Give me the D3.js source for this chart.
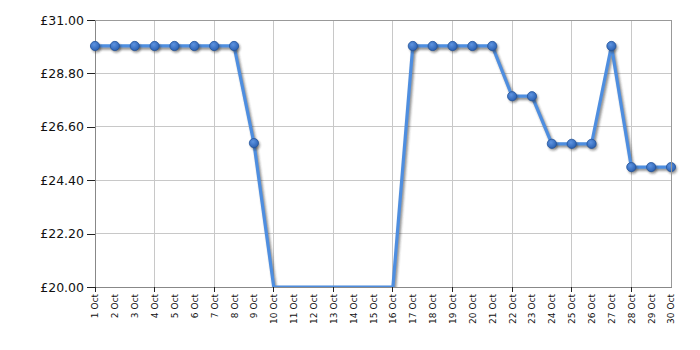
<!DOCTYPE html>
<html><head><meta charset="utf-8">
<script src="https://cdn.jsdelivr.net/npm/d3@7/dist/d3.min.js"></script>
<style>body{margin:0;background:#fff}svg{display:block}</style>
</head><body><svg id="c" width="700" height="350"></svg>
<script>
const dates = ["1 Oct","2 Oct","3 Oct","4 Oct","5 Oct","6 Oct","7 Oct","8 Oct","9 Oct","10 Oct","11 Oct","12 Oct","13 Oct","14 Oct","15 Oct","16 Oct","17 Oct","18 Oct","19 Oct","20 Oct","21 Oct","22 Oct","23 Oct","24 Oct","25 Oct","26 Oct","27 Oct","28 Oct","29 Oct","30 Oct"];
const prices = [29.93,29.93,29.93,29.93,29.93,29.93,29.93,29.93,25.93,null,null,null,null,null,null,null,29.93,29.93,29.93,29.93,29.93,27.86,27.86,25.9,25.9,25.9,29.93,24.94,24.94,24.94];
const yTicks = [20,22.2,24.4,26.6,28.8,31];
const xTickDates = ["1 Oct","4 Oct","7 Oct","10 Oct","13 Oct","16 Oct","19 Oct","22 Oct","25 Oct","28 Oct"];

const L=95,R=671,T=20,B=287;
const svg=d3.select("#c");
const x=d3.scalePoint().domain(dates).range([L,R]);
const y=d3.scaleLinear().domain([20,31]).range([B,T]);

const defs=svg.append("defs");
defs.append("clipPath").attr("id","clip").append("rect").attr("x",L).attr("y",T-10).attr("width",R-L+10).attr("height",B-T+10);
const g=defs.append("radialGradient").attr("id","mk").attr("cx","40%").attr("cy","35%").attr("r","65%");
g.append("stop").attr("offset","0%").attr("stop-color","#5d93e0");
g.append("stop").attr("offset","100%").attr("stop-color","#2c62b4");
const f=defs.append("filter").attr("id","blur").attr("x","-20%").attr("y","-20%").attr("width","140%").attr("height","140%");
f.append("feGaussianBlur").attr("stdDeviation",1);

// grid
svg.append("g").selectAll("line").data(yTicks).join("line")
  .attr("x1",L).attr("x2",R).attr("y1",d=>y(d)).attr("y2",d=>y(d))
  .attr("stroke","#c8c8c8").attr("stroke-width",1).attr("shape-rendering","crispEdges");
svg.append("g").selectAll("line").data(xTickDates.concat(["30 Oct"])).join("line")
  .attr("x1",d=>x(d)).attr("x2",d=>x(d)).attr("y1",T).attr("y2",B)
  .attr("stroke","#c8c8c8").attr("stroke-width",1).attr("shape-rendering","crispEdges");

// axes
const yAxis=svg.append("g").attr("transform",`translate(${L},0)`)
  .call(d3.axisLeft(y).tickValues(yTicks).tickSize(8).tickPadding(3).tickFormat(d=>"£"+d.toFixed(2)));
yAxis.select(".domain").attr("stroke","#888").attr("shape-rendering","crispEdges");
yAxis.selectAll(".tick line").attr("stroke","#222").attr("shape-rendering","crispEdges");
yAxis.selectAll("text").attr("font-family","DejaVu Sans, Verdana, sans-serif").attr("font-size",12.5).attr("fill","#111");

const xAxis=svg.append("g").attr("transform",`translate(0,${B})`)
  .call(d3.axisBottom(x).tickSize(0).tickSizeOuter(0));
xAxis.select(".domain").attr("stroke","#888").attr("shape-rendering","crispEdges");
xAxis.selectAll(".tick line").remove();
xAxis.selectAll("text").attr("font-family","DejaVu Sans, Verdana, sans-serif").attr("font-size",9).attr("fill","#111")
  .attr("text-anchor","end").attr("transform","rotate(-90)").attr("x",-7).attr("y",0).attr("dy","0.33em");
svg.append("g").selectAll("line").data(xTickDates).join("line")
  .attr("x1",d=>x(d)).attr("x2",d=>x(d)).attr("y1",B).attr("y2",B+5)
  .attr("stroke","#222").attr("shape-rendering","crispEdges");

const line=d3.line().x((d,i)=>x(dates[i])).y(d=>y(d==null?20:d));
const plot=svg.append("g").attr("clip-path","url(#clip)");
plot.append("path").datum(prices).attr("d",line).attr("fill","none")
  .attr("stroke","rgba(60,60,60,0.55)").attr("stroke-width",3.5).attr("stroke-linejoin","round")
  .attr("transform","translate(1.5,2)").attr("filter","url(#blur)");
plot.append("path").datum(prices).attr("d",line).attr("fill","none")
  .attr("stroke","#4e8ee0").attr("stroke-width",3.2).attr("stroke-linejoin","round");

const pts=prices.map((v,i)=>({v,d:dates[i]})).filter(p=>p.v!=null);
svg.append("g").selectAll("circle").data(pts).join("circle")
  .attr("cx",p=>x(p.d)+1.5).attr("cy",p=>y(p.v)+2).attr("r",4.8)
  .attr("fill","rgba(40,40,40,0.45)").attr("filter","url(#blur)");
svg.append("g").selectAll("circle").data(pts).join("circle")
  .attr("cx",p=>x(p.d)).attr("cy",p=>y(p.v)).attr("r",4.6)
  .attr("fill","url(#mk)").attr("stroke","#23549c").attr("stroke-width",0.8);

// top and right border
svg.append("line").attr("x1",L).attr("x2",R).attr("y1",T).attr("y2",T).attr("stroke","#999").attr("shape-rendering","crispEdges");
svg.append("line").attr("x1",R).attr("x2",R).attr("y1",T).attr("y2",B).attr("stroke","#999").attr("shape-rendering","crispEdges");
</script></body></html>
